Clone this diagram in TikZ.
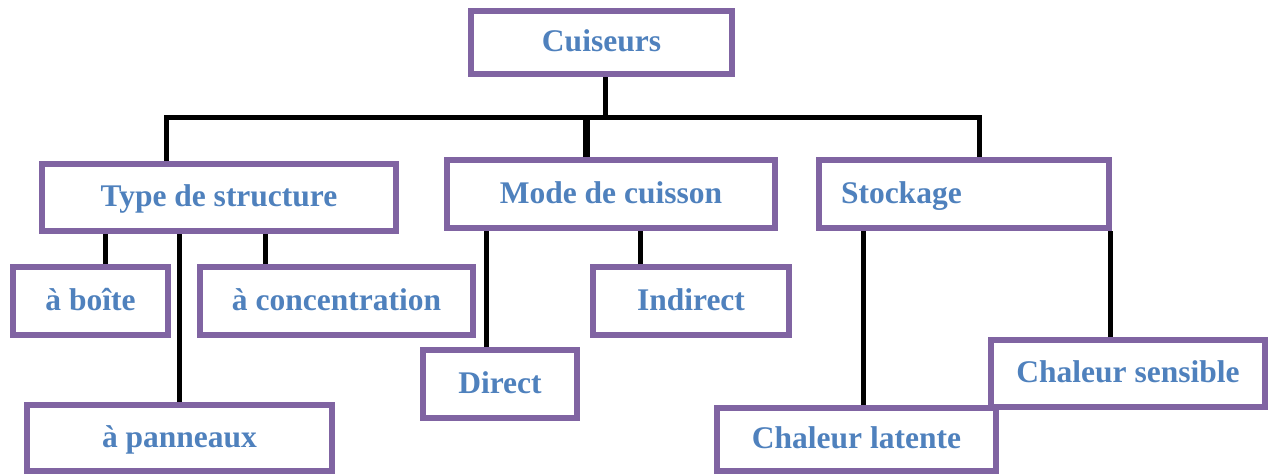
\documentclass[tikz,border=0pt]{standalone}
\usepackage{fontspec}
\setmainfont{Liberation Serif}
\usepackage{xcolor}
\usepackage{tikz}
\usetikzlibrary{
    positioning,
    calc
}
\definecolor{boxpurple}{HTML}{8064A2}
\definecolor{textblue}{HTML}{4F81BD}

\begin{document}
\begin{tikzpicture}[
    x=1pt, y=-1pt,
    box/.style={
        draw=boxpurple,
        line width=6pt,
        fill=white,
        inner sep=0pt,
        text height=22pt,
        text depth=4pt,
        text=textblue,
        font=\fontsize{31.5}{36}\selectfont\bfseries
    },
    link/.style={draw=black, line width=5pt}
]
\useasboundingbox (0,0) rectangle (1269,475);

\node[box, minimum width=261pt, minimum height=63pt] (cu) at (601.5,42.5) {Cuiseurs};

\node[box, minimum width=354pt, minimum height=67pt] (ts) at (219,197.5) {Type de structure};
\node[box, minimum width=328pt, minimum height=68pt] (mc) at (611,194) {Mode de cuisson};
\node[box, minimum width=290pt, minimum height=68pt, text width=246pt,
      inner xsep=22pt, align=left] (st) at (964,194) {Stockage};

\node[box, minimum width=155pt, minimum height=68pt] (bo) at (90.5,301) {à boîte};
\node[box, minimum width=273pt, minimum height=68pt] (co) at (336.5,301) {à concentration};
\node[box, minimum width=305pt, minimum height=66pt] (pa) at (179.5,438) {à panneaux};

\node[box, minimum width=154pt, minimum height=68pt] (di) at (500,384) {Direct};
\node[box, minimum width=196pt, minimum height=68pt] (in) at (691,301) {Indirect};

\node[box, minimum width=279pt, minimum height=63pt] (cl) at (856.5,439.5) {Chaleur latente};
\node[box, minimum width=274pt, minimum height=67pt] (cs) at (1128,373.5) {Chaleur sensible};

% top level
\coordinate (hub) at (605,117);
\draw[link] ([xshift=3.5]cu.south) -- (hub);
\draw[link] ([xshift=-53]ts.north) |- (hub) -| ([xshift=15]st.north);
\draw[link, line width=7pt] ([xshift=-25]mc.north) -- ([xshift=-25]mc.north |- hub);

% branches
\draw[link] ([xshift=14.5]bo.north) -- ([xshift=14.5]bo.north |- ts.south);
\draw[link] ([xshift=-71.5]co.north) -- ([xshift=-71.5]co.north |- ts.south);
\draw[link] (pa.north) -- (pa.north |- ts.south);

\draw[link] ([xshift=-14]di.north) -- ([xshift=-14]di.north |- mc.south);
\draw[link] ([xshift=-51]in.north) -- ([xshift=-51]in.north |- mc.south);

\draw[link] ([xshift=6.5]cl.north) -- ([xshift=6.5]cl.north |- st.south);
\draw[link] ([xshift=-18]cs.north) -- ([xshift=-18]cs.north |- st.south);

\end{tikzpicture}
\end{document}
